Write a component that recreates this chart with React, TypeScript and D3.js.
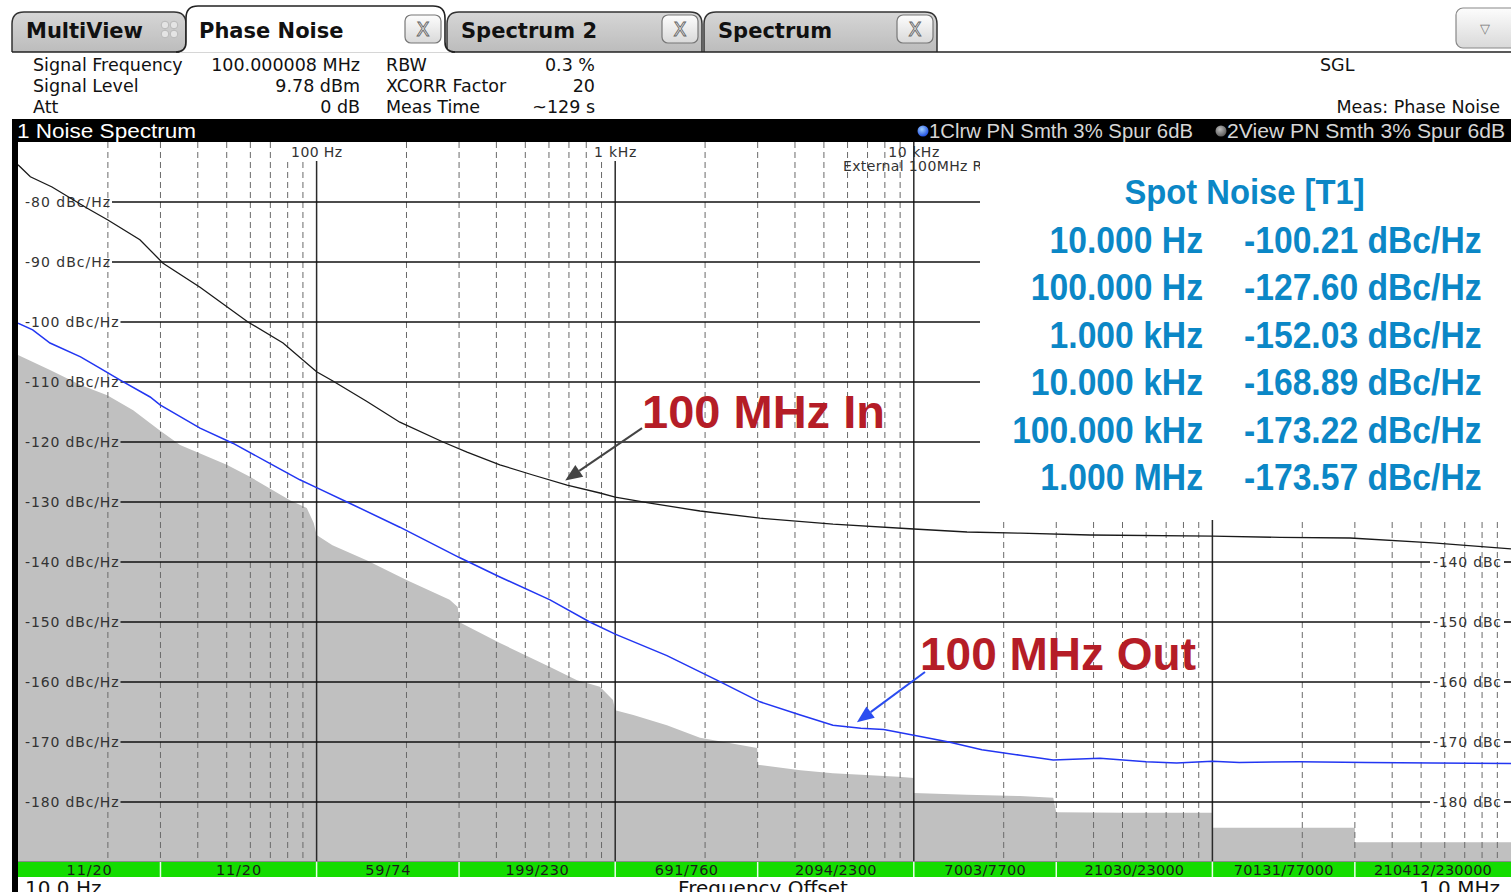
import React from 'react';
import * as d3 from 'd3';

// ---------- data ----------
const inFreq = [10, 11, 13, 17, 20, 25.6, 30.6, 40.7, 58.9, 77.2, 100, 113, 147, 190, 265, 319, 411, 530, 690, 889, 1000, 1308, 1923, 3055, 5363, 10000, 15070, 22680, 38900, 100000, 168400, 288900, 548000, 1000000];
const inLevel = [-73.8, -75.8, -77.5, -81, -83, -86.3, -90.2, -94.2, -100, -103.5, -108.3, -109.8, -113.2, -116.7, -120, -121.7, -123.8, -125.5, -127.2, -128.5, -129.2, -130.2, -131.5, -132.7, -133.7, -134.5, -135, -135.2, -135.5, -135.7, -135.9, -136, -136.8, -137.8];

const outFreq = [10, 11.2, 12.8, 16.2, 18.8, 22, 27.7, 29.9, 40.7, 52.4, 68.2, 87.9, 100, 129, 190, 302, 411, 605, 822, 1000, 1490, 2190, 3055, 4170, 5360, 6650, 7930, 10000, 13100, 16900, 22700, 29300, 42000, 60000, 75900, 100000, 123000, 195000, 327000, 548000, 1000000];
const outLevel = [-100.2, -101.3, -103.5, -105.8, -107.7, -109.7, -112.5, -113.8, -117.7, -120.2, -123.3, -126.3, -127.6, -130.2, -134.2, -139.3, -142.5, -146.3, -150, -152.03, -155.6, -159.7, -163.3, -165.5, -167.2, -167.7, -167.9, -168.89, -170, -171.3, -172.2, -173, -172.7, -173.3, -173.5, -173.22, -173.4, -173.3, -173.4, -173.5, -173.57];

const floorFreq = [10, 12.8, 16.2, 19.9, 24.3, 29.7, 34.9, 50, 59.8, 81.4, 92.7, 97.8, 100, 113, 147, 200, 279, 297, 300, 411, 605, 745, 889, 983, 1000, 1150, 1490, 1923, 2990, 3000, 4170, 5360, 8890, 10000, 10000, 15070, 22680, 29300, 30000, 50600, 100000, 100000, 300000, 300000, 1000000];
const floorLevel = [-105.5, -108, -110.5, -112.2, -114.7, -118, -120.5, -123.8, -125.8, -129.7, -131, -133.5, -135.5, -137.2, -139.7, -143, -146.3, -147.5, -150, -153.5, -157.5, -159.7, -160.8, -163, -164.7, -165.5, -167.2, -169.3, -171, -173.8, -174.7, -175.2, -175.8, -176, -178.5, -178.8, -179, -179.3, -181.7, -181.8, -181.8, -184.3, -184.3, -186.7, -186.7];

const yTicks = [-80, -90, -100, -110, -120, -130, -140, -150, -160, -170, -180];
const decadeFreqs = [100, 1000, 10000, 100000];
const decadeLabels = ['100 Hz', '1 kHz', '10 kHz'];
const segEdges = [10, 30, 100, 300, 1000, 3000, 10000, 30000, 100000, 300000, 1000000];
const segLabels = ['11/20', '11/20', '59/74', '199/230', '691/760', '2094/2300', '7003/7700', '21030/23000', '70131/77000', '210412/230000'];

const spotFreqs = ['10.000 Hz', '100.000 Hz', '1.000 kHz', '10.000 kHz', '100.000 kHz', '1.000 MHz'];
const spotValues = ['-100.21 dBc/Hz', '-127.60 dBc/Hz', '-152.03 dBc/Hz', '-168.89 dBc/Hz', '-173.22 dBc/Hz', '-173.57 dBc/Hz'];

const infoLabelsA = ['Signal Frequency', 'Signal Level', 'Att'];
const infoValuesA = ['100.000008 MHz', '9.78 dBm', '0 dB'];
const infoLabelsB = ['RBW', 'XCORR Factor', 'Meas Time'];
const infoValuesB = ['0.3 %', '20', '~129 s'];

// annotation anchors in data coordinates [freq, level]
const inArrow = { label: '100 MHz In', tail: [1230, -117.7], tip: [680, -126.4] };
const outArrow = { label: '100 MHz Out', tail: [10900, -158], tip: [6450, -166.7] };

const SANS = "'DejaVu Sans', Verdana, sans-serif";
const ARIAL = "'Liberation Sans', Arial, sans-serif";

function Arrow({ x1, y1, x2, y2, color }: { x1: number; y1: number; x2: number; y2: number; color: string }) {
  const a = Math.atan2(y2 - y1, x2 - x1);
  const L = 17, Wd = 7;
  const bx = x2 - L * Math.cos(a), by = y2 - L * Math.sin(a);
  const p1 = [bx + Wd * Math.sin(a), by - Wd * Math.cos(a)];
  const p2 = [bx - Wd * Math.sin(a), by + Wd * Math.cos(a)];
  return (
    <g>
      <line x1={x1} y1={y1} x2={bx} y2={by} stroke={color} strokeWidth={2} />
      <polygon points={`${x2},${y2} ${p1[0]},${p1[1]} ${p2[0]},${p2[1]}`} fill={color} />
    </g>
  );
}

function CloseBtn({ x }: { x: number }) {
  return (
    <g>
      <rect x={x} y={15} width={36} height={28} rx={6} fill="url(#btnGrad)" stroke="#777" strokeWidth={1.2} />
      <text x={x + 18} y={36} textAnchor="middle" fontFamily={SANS} fontSize={19} fill="#f2f2f2" stroke="#666" strokeWidth={0.9}>X</text>
    </g>
  );
}

function InactiveTab({ x0, x1, label }: { x0: number; x1: number; label: string }) {
  const d = `M${x0},52 L${x0},24 Q${x0},12 ${x0 + 12},12 L${x1 - 12},12 Q${x1},12 ${x1},24 L${x1},52`;
  return (
    <g>
      <path d={d} fill="url(#tabGrad)" stroke="#333" strokeWidth={1.5} />
      <text x={x0 + 14} y={38} fontFamily={SANS} fontWeight="bold" fontSize={21} fill="#111">{label}</text>
    </g>
  );
}

// small grid-label text with monospaced-like advance
function GLabel({ x, y, t, anchor, size, adv, fill }: { x: number; y: number; t: string; anchor?: string; size: number; adv: number; fill: string }) {
  return (
    <text x={x} y={y} textAnchor={anchor || 'start'} fontFamily={SANS} fontSize={size} fill={fill}
      textLength={t.length * adv} lengthAdjust="spacing">{t}</text>
  );
}

export default function App() {
  const plotL = 18, plotR = 1511, plotT = 142, plotB = 861;
  const x = d3.scaleLog().domain([10, 1e6]).range([plotL, plotR]);
  const y = d3.scaleLinear().domain([-70, -190]).range([142, 862]);

  const pts = (f: number[], v: number[]) => f.map((d, i) => [d, v[i]] as [number, number]);
  const line = d3.line<[number, number]>().x(d => x(d[0])).y(d => y(d[1]));
  const area = d3.area<[number, number]>().x(d => x(d[0])).y0(plotB).y1(d => y(d[1]));

  const minor: number[] = [];
  [10, 100, 1e3, 1e4, 1e5].forEach(dec => { for (let m = 2; m <= 9; m++) minor.push(dec * m); });

  const charW = 8.5;
  const boxX = 980, boxY = 142, boxBottom = 520;

  return (
    <svg width={1511} height={892} style={{ position: 'absolute', left: 0, top: 0, display: 'block', background: '#fff' }}>
      <defs>
        <linearGradient id="tabGrad" x1="0" y1="0" x2="0" y2="1">
          <stop offset="0" stopColor="#d6d6d6" />
          <stop offset="1" stopColor="#bcbcbc" />
        </linearGradient>
        <linearGradient id="btnGrad" x1="0" y1="0" x2="0" y2="1">
          <stop offset="0" stopColor="#fdfdfd" />
          <stop offset="1" stopColor="#d9d9d9" />
        </linearGradient>
        <radialGradient id="blueDot" cx="0.4" cy="0.35" r="0.7">
          <stop offset="0" stopColor="#9fd0ff" />
          <stop offset="1" stopColor="#1746e0" />
        </radialGradient>
        <radialGradient id="grayDot" cx="0.4" cy="0.35" r="0.7">
          <stop offset="0" stopColor="#bbb" />
          <stop offset="1" stopColor="#555" />
        </radialGradient>
        <clipPath id="plotClip">
          <rect x={plotL} y={plotT} width={plotR - plotL} height={plotB - plotT} />
        </clipPath>
        <clipPath id="leftOfBox">
          <rect x={plotL} y={plotT} width={boxX - plotL} height={40} />
        </clipPath>
      </defs>

      <rect x={0} y={0} width={1511} height={892} fill="#fff" />

      {/* ---- tabs ---- */}
      <InactiveTab x0={12} x1={186} label="MultiView" />
      <g fill="#e4e4e4" stroke="#b8b8b8" strokeWidth={1}>
        <circle cx={165} cy={25} r={3.8} />
        <circle cx={174} cy={25} r={3.8} />
        <circle cx={165} cy={34} r={3.8} />
        <circle cx={174} cy={34} r={3.8} />
      </g>
      <InactiveTab x0={447} x1={702} label="Spectrum 2" />
      <CloseBtn x={662} />
      <InactiveTab x0={704} x1={937} label="Spectrum" />
      <CloseBtn x={897} />
      <line x1={12} y1={52} x2={1511} y2={52} stroke="#222" strokeWidth={1.6} />
      <path d="M176,52.8 Q186,52.8 186,42 L186,18 Q186,6 198,6 L433,6 Q445,6 445,18 L445,42 Q445,52.8 455,52.8 Z" fill="#fff" stroke="none" />
      <path d="M176,52 Q186,52 186,42 L186,18 Q186,6 198,6 L433,6 Q445,6 445,18 L445,42 Q445,52 455,52" fill="none" stroke="#222" strokeWidth={1.6} />
      <text x={199} y={38} fontFamily={SANS} fontWeight="bold" fontSize={21} fill="#111">Phase Noise</text>
      <CloseBtn x={405} />
      <rect x={1456} y={8} width={64} height={40} rx={7} fill="url(#btnGrad)" stroke="#888" strokeWidth={1.2} />
      <text x={1485} y={33} textAnchor="middle" fontFamily={SANS} fontSize={13} fill="#777">▽</text>

      {/* ---- info header ---- */}
      <g fontFamily={SANS} fontSize={17.5} fill="#111">
        {infoLabelsA.map((t, i) => <text key={'la' + i} x={33} y={71 + i * 21}>{t}</text>)}
        {infoValuesA.map((t, i) => <text key={'va' + i} x={360} y={71 + i * 21} textAnchor="end">{t}</text>)}
        {infoLabelsB.map((t, i) => <text key={'lb' + i} x={386} y={71 + i * 21}>{t}</text>)}
        {infoValuesB.map((t, i) => <text key={'vb' + i} x={595} y={71 + i * 21} textAnchor="end">{t}</text>)}
        <text x={1320} y={71}>SGL</text>
        <text x={1500} y={113} textAnchor="end">Meas: Phase Noise</text>
      </g>

      {/* ---- title bar ---- */}
      <rect x={12} y={119} width={1499} height={23} fill="#000" />
      <text x={17} y={138} fontFamily={ARIAL} fontSize={20} fill="#fff" textLength={179} lengthAdjust="spacingAndGlyphs">1 Noise Spectrum</text>
      <circle cx={923} cy={131} r={5.5} fill="url(#blueDot)" />
      <text x={929} y={138} fontFamily={ARIAL} fontSize={20} fill="#d6d6d6" textLength={264} lengthAdjust="spacingAndGlyphs">1Clrw PN Smth 3% Spur 6dB</text>
      <circle cx={1221} cy={131} r={5.5} fill="url(#grayDot)" />
      <text x={1227} y={138} fontFamily={ARIAL} fontSize={20} fill="#d6d6d6" textLength={278} lengthAdjust="spacingAndGlyphs">2View PN Smth 3% Spur 6dB</text>

      {/* ---- plot ---- */}
      <rect x={plotL} y={plotT} width={plotR - plotL} height={plotB - plotT} fill="#fff" />
      <g clipPath="url(#plotClip)">
        <path d={area(pts(floorFreq, floorLevel)) || ''} fill="#c0c0c0" />
      </g>

      {/* minor dashed verticals */}
      {minor.map((f, i) => (
        <line key={'m' + i} x1={x(f)} x2={x(f)} y1={plotT} y2={plotB} stroke="#6a6a6a" strokeWidth={1} strokeDasharray="6,4" />
      ))}

      {/* top decade labels */}
      {decadeLabels.map((t, i) => {
        const cx = x(decadeFreqs[i]);
        const w = t.length * charW;
        return (
          <g key={'dl' + i}>
            {i < 2 && <rect x={cx - w / 2 - 6} y={plotT} width={w + 12} height={18} fill="#fff" />}
            <GLabel x={cx} y={157} t={t} anchor="middle" size={14} adv={charW} fill="#333" />
          </g>
        );
      })}
      <g clipPath="url(#leftOfBox)">
        <GLabel x={843} y={171} t="External 100MHz Ref" size={14} adv={8.05} fill="#333" />
      </g>

      {/* decade solid verticals */}
      {decadeFreqs.map((f, i) => (
        <line key={'d' + i} x1={x(f)} x2={x(f)} y1={i === 2 ? plotT : 161} y2={plotB} stroke="#2a2a2a" strokeWidth={1.5} />
      ))}

      {/* horizontal grid + labels */}
      {yTicks.map((v, i) => {
        const lbl = `${v} dBc/Hz`;
        const yy = y(v);
        const startX = 25 + lbl.length * charW + 2;
        const belowBox = yy > boxBottom;
        return (
          <g key={'h' + i}>
            <line x1={startX} x2={belowBox ? 1430 : boxX} y1={yy} y2={yy} stroke="#111" strokeWidth={1.6} />
            {belowBox && <line x1={1504} x2={plotR} y1={yy} y2={yy} stroke="#111" strokeWidth={1.6} />}
            <GLabel x={25} y={yy + 5} t={lbl} size={14} adv={charW} fill="#333" />
            {belowBox && <GLabel x={1433} y={yy + 5} t={`${v} dBc`} size={14} adv={charW} fill="#333" />}
          </g>
        );
      })}

      {/* traces */}
      <g clipPath="url(#plotClip)">
        <path d={line(pts(inFreq, inLevel)) || ''} fill="none" stroke="#1a1a1a" strokeWidth={1.3} />
        <path d={line(pts(outFreq, outLevel)) || ''} fill="none" stroke="#2236f2" strokeWidth={1.5} />
      </g>

      {/* spot noise box */}
      <rect x={boxX} y={boxY} width={plotR - boxX} height={boxBottom - boxY} fill="#fff" />
      <g fill="#0b87c6" fontFamily={ARIAL} fontWeight="bold">
        <g transform="translate(1244.5,204) scale(0.91,1)">
          <text textAnchor="middle" fontSize={36}>Spot Noise [T1]</text>
        </g>
        {spotFreqs.map((t, i) => (
          <g key={'sf' + i} transform={`translate(1203,${253 + i * 47.4}) scale(0.91,1)`}>
            <text textAnchor="end" fontSize={37}>{t}</text>
          </g>
        ))}
        {spotValues.map((t, i) => (
          <g key={'sv' + i} transform={`translate(1244,${253 + i * 47.4}) scale(0.91,1)`}>
            <text fontSize={37}>{t}</text>
          </g>
        ))}
      </g>

      {/* annotations */}
      <Arrow x1={x(inArrow.tail[0])} y1={y(inArrow.tail[1])} x2={x(inArrow.tip[0])} y2={y(inArrow.tip[1])} color="#444" />
      <text x={x(inArrow.tail[0])} y={y(inArrow.tail[1])} fontFamily={ARIAL} fontWeight="bold" fontSize={47} fill="#b51d27">{inArrow.label}</text>
      <Arrow x1={x(outArrow.tail[0])} y1={y(outArrow.tail[1]) + 2} x2={x(outArrow.tip[0])} y2={y(outArrow.tip[1])} color="#2a4cf0" />
      <text x={x(outArrow.tail[0]) - 5} y={y(outArrow.tail[1])} fontFamily={ARIAL} fontWeight="bold" fontSize={46} fill="#b51d27">{outArrow.label}</text>

      {/* bottom bar */}
      <line x1={plotL} x2={plotR} y1={861.5} y2={861.5} stroke="#8a8a8a" strokeWidth={1} />
      {segLabels.map((t, i) => {
        const x0 = x(segEdges[i]), x1 = x(segEdges[i + 1]);
        return (
          <g key={'s' + i}>
            <rect x={x0} y={862} width={x1 - x0} height={15} fill="#14dc00" />
            <GLabel x={(x0 + x1) / 2} y={875} t={t} anchor="middle" size={14.5} adv={9.05} fill="#1a1a1a" />
          </g>
        );
      })}
      {segEdges.slice(1, -1).map((f, i) => (
        <line key={'se' + i} x1={x(f)} x2={x(f)} y1={862} y2={877} stroke="#e8ffe8" strokeWidth={1.5} />
      ))}
      <g fontFamily={SANS} fontSize={20} fill="#111">
        <text x={25} y={895}>10.0 Hz</text>
        <text x={763} y={895} textAnchor="middle">Frequency Offset</text>
        <text x={1500} y={895} textAnchor="end">1.0 MHz</text>
      </g>

      {/* left frame */}
      <rect x={12} y={119} width={6} height={773} fill="#000" />
    </svg>
  );
}
